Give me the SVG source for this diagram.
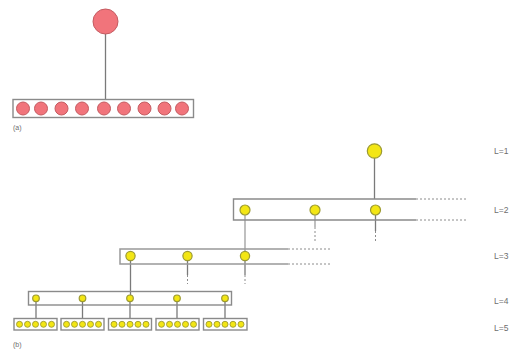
<svg xmlns="http://www.w3.org/2000/svg" width="524" height="356" viewBox="0 0 524 356">
<style>
.bg{fill:#ffffff}
.box{fill:none;stroke:#8a8a8a;stroke-width:1.4}
.ln{stroke:#7a7a7a;stroke-width:1.3;fill:none}
.lnl{stroke:#b0b0b0;stroke-width:1.6;fill:none}
.dash{stroke:#8c8c8c;stroke-width:1;stroke-dasharray:2,2;fill:none}
.red{fill:#f1747b;stroke:#c45a60;stroke-width:1}
.yel{fill:#f3e614;stroke:#9c9a32;stroke-width:1.2}
.yel5{fill:#f3e614;stroke:#9c9a32;stroke-width:0.9}
.lbl{font-family:"Liberation Sans",Arial,sans-serif;font-size:8.5px;fill:#6e6e6e}
.cap{font-family:"Liberation Sans",Arial,sans-serif;font-size:7px;fill:#6e6e6e}
</style>
<rect class="bg" x="0" y="0" width="524" height="356"/>

<g id="connectors">
  <line class="ln" x1="105.5" y1="34" x2="105.5" y2="99.5"/>
  <line class="ln" x1="374.5" y1="158" x2="374.5" y2="199"/>
  <line class="lnl" x1="245" y1="215" x2="245" y2="251"/>
  <line class="lnl" x1="315" y1="215" x2="315" y2="227"/>
  <line class="dash" x1="315" y1="227" x2="315" y2="241"/>
  <line class="ln" x1="375.5" y1="215" x2="375.5" y2="231"/>
  <line class="dash" x1="375.5" y1="231" x2="375.5" y2="241"/>
  <line class="ln" x1="130.5" y1="260" x2="130.5" y2="295"/>
  <line class="ln" x1="187.5" y1="260" x2="187.5" y2="275"/>
  <line class="dash" x1="187.5" y1="275" x2="187.5" y2="284"/>
  <line class="ln" x1="245" y1="260" x2="245" y2="275"/>
  <line class="dash" x1="245" y1="275" x2="245" y2="284"/>
  <line class="ln" x1="36" y1="301" x2="36" y2="318.5"/>
  <line class="ln" x1="82.5" y1="301" x2="82.5" y2="318.5"/>
  <line class="ln" x1="130" y1="301" x2="130" y2="318.5"/>
  <line class="ln" x1="177" y1="301" x2="177" y2="318.5"/>
  <line class="ln" x1="225" y1="301" x2="225" y2="318.5"/>
  <line class="dash" x1="416" y1="199" x2="466" y2="199"/>
  <line class="dash" x1="416" y1="220" x2="466" y2="220"/>
  <line class="dash" x1="288" y1="249" x2="330" y2="249"/>
  <line class="dash" x1="288" y1="264" x2="330" y2="264"/>
</g>

<g id="a-root"><circle class="red" cx="105.5" cy="21.5" r="12.5"/></g>
<g id="a-layer">
  <rect class="box" x="13" y="99.5" width="180.5" height="18"/>
  <circle class="red" cx="23" cy="108.5" r="6.5"/>
  <circle class="red" cx="41" cy="108.5" r="6.5"/>
  <circle class="red" cx="61.5" cy="108.5" r="6.5"/>
  <circle class="red" cx="82" cy="108.5" r="6.5"/>
  <circle class="red" cx="104" cy="108.5" r="6.5"/>
  <circle class="red" cx="124" cy="108.5" r="6.5"/>
  <circle class="red" cx="144.5" cy="108.5" r="6.5"/>
  <circle class="red" cx="164.5" cy="108.5" r="6.5"/>
  <circle class="red" cx="182" cy="108.5" r="6.5"/>
</g>
<text class="cap" x="13" y="130">(a)</text>

<g id="L1"><circle class="yel" cx="374.5" cy="151" r="7.2"/></g>
<g id="L2">
  <path class="box" d="M416,199 H233.5 V220 H416"/>
  <circle class="yel" cx="245" cy="210" r="5"/>
  <circle class="yel" cx="315" cy="210" r="5"/>
  <circle class="yel" cx="375.5" cy="210" r="5"/>
</g>
<g id="L3">
  <path class="ln" d="M288,249 H120 V264 H288" style="stroke:#999;stroke-width:1.5"/>
  <circle class="yel" cx="130.5" cy="256" r="4.6"/>
  <circle class="yel" cx="187.5" cy="256" r="4.6"/>
  <circle class="yel" cx="245" cy="256" r="4.6"/>
</g>
<g id="L4">
  <rect class="box" x="28.5" y="291.5" width="203" height="13.5"/>
  <circle class="yel" cx="36" cy="298.3" r="3.3"/>
  <circle class="yel" cx="82.5" cy="298.3" r="3.3"/>
  <circle class="yel" cx="130" cy="298.3" r="3.3"/>
  <circle class="yel" cx="177" cy="298.3" r="3.3"/>
  <circle class="yel" cx="225" cy="298.3" r="3.3"/>
</g>
<g id="L5">
  <g id="L5-1">
    <rect class="box" x="14" y="318.5" width="43" height="11.5"/>
    <circle class="yel5" cx="19.5" cy="324.3" r="3"/><circle class="yel5" cx="27.5" cy="324.3" r="3"/><circle class="yel5" cx="35.5" cy="324.3" r="3"/><circle class="yel5" cx="43.5" cy="324.3" r="3"/><circle class="yel5" cx="51.5" cy="324.3" r="3"/>
  </g>
  <g id="L5-2">
    <rect class="box" x="61" y="318.5" width="43" height="11.5"/>
    <circle class="yel5" cx="66.5" cy="324.3" r="3"/><circle class="yel5" cx="74.5" cy="324.3" r="3"/><circle class="yel5" cx="82.5" cy="324.3" r="3"/><circle class="yel5" cx="90.5" cy="324.3" r="3"/><circle class="yel5" cx="98.5" cy="324.3" r="3"/>
  </g>
  <g id="L5-3">
    <rect class="box" x="108.5" y="318.5" width="43" height="11.5"/>
    <circle class="yel5" cx="114" cy="324.3" r="3"/><circle class="yel5" cx="122" cy="324.3" r="3"/><circle class="yel5" cx="130" cy="324.3" r="3"/><circle class="yel5" cx="138" cy="324.3" r="3"/><circle class="yel5" cx="146" cy="324.3" r="3"/>
  </g>
  <g id="L5-4">
    <rect class="box" x="156" y="318.5" width="43" height="11.5"/>
    <circle class="yel5" cx="161.5" cy="324.3" r="3"/><circle class="yel5" cx="169.5" cy="324.3" r="3"/><circle class="yel5" cx="177.5" cy="324.3" r="3"/><circle class="yel5" cx="185.5" cy="324.3" r="3"/><circle class="yel5" cx="193.5" cy="324.3" r="3"/>
  </g>
  <g id="L5-5">
    <rect class="box" x="203.5" y="318.5" width="43.5" height="11.5"/>
    <circle class="yel5" cx="209" cy="324.3" r="3"/><circle class="yel5" cx="217" cy="324.3" r="3"/><circle class="yel5" cx="225" cy="324.3" r="3"/><circle class="yel5" cx="233" cy="324.3" r="3"/><circle class="yel5" cx="241" cy="324.3" r="3"/>
  </g>
</g>
<text class="cap" x="13" y="347">(b)</text>

<g id="labels">
  <text class="lbl" x="494" y="154">L=1</text>
  <text class="lbl" x="494" y="213">L=2</text>
  <text class="lbl" x="494" y="259">L=3</text>
  <text class="lbl" x="494" y="303.5">L=4</text>
  <text class="lbl" x="494" y="330.5">L=5</text>
</g>
</svg>
